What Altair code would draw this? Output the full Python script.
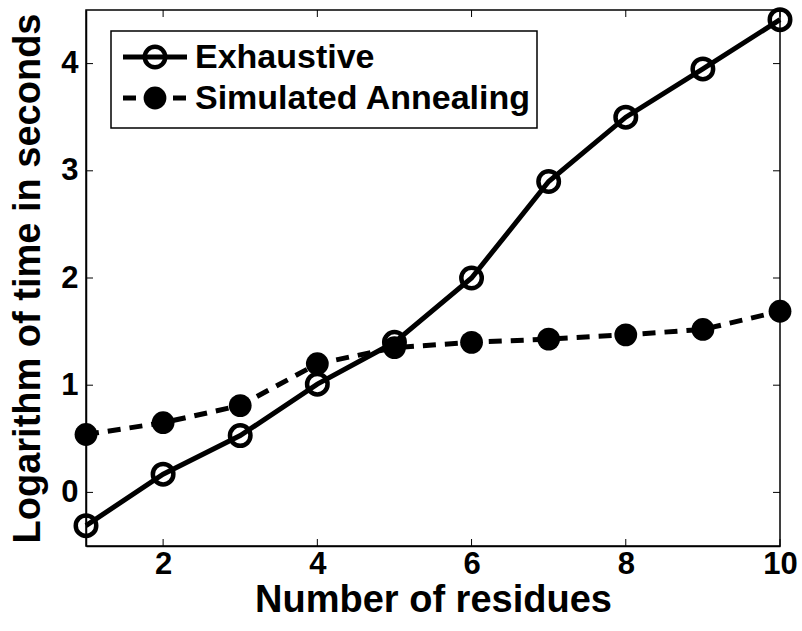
import altair as alt
import pandas as pd

# Runtime (log10 seconds) versus number of residues
residues = [1, 2, 3, 4, 5, 6, 7, 8, 9, 10]
exhaustive = [-0.31, 0.17, 0.53, 1.01, 1.40, 2.00, 2.90, 3.50, 3.95, 4.41]
annealing = [0.54, 0.65, 0.81, 1.20, 1.35, 1.40, 1.43, 1.47, 1.52, 1.69]

series_names = ["Exhaustive", "Simulated Annealing"]
x_ticks = [2, 4, 6, 8, 10]
y_ticks = [0, 1, 2, 3, 4]

W, H = 694, 536
FONT = "Liberation Sans"

df_ex = pd.DataFrame({"n": residues, "t": exhaustive})
df_sa = pd.DataFrame({"n": residues, "t": annealing})
df_xt = pd.DataFrame({"v": x_ticks})
df_yt = pd.DataFrame({"v": y_ticks})
one = pd.DataFrame({"k": [0]})

x_scale = alt.Scale(domain=[1, 10], nice=False, zero=False)
y_scale = alt.Scale(domain=[-0.5, 4.5], nice=False, zero=False)

x_enc = alt.X(
    "n:Q",
    scale=x_scale,
    axis=alt.Axis(
        title="Number of residues",
        values=x_ticks,
        format="d",
        grid=False,
        ticks=False,
        tickSize=0,
        labelPadding=3,
        titlePadding=2,
        labelFontSize=31,
        labelFontWeight="bold",
        titleFontSize=38,
        titleFontWeight="bold",
        labelFont=FONT,
        titleFont=FONT,
        labelColor="black",
        titleColor="black",
        domainColor="black",
        domainWidth=1.5,
        labelFlush=False,
    ),
)
y_enc = alt.Y(
    "t:Q",
    scale=y_scale,
    axis=alt.Axis(
        title="Logarithm of time in seconds",
        values=y_ticks,
        format="d",
        grid=False,
        ticks=False,
        tickSize=0,
        labelPadding=8,
        titlePadding=13,
        labelFontSize=31,
        labelFontWeight="bold",
        titleFontSize=38,
        titleFontWeight="bold",
        labelFont=FONT,
        titleFont=FONT,
        labelColor="black",
        titleColor="black",
        domainColor="black",
        domainWidth=1.5,
        labelFlush=False,
    ),
)

sa_line = alt.Chart(df_sa).mark_line(
    color="black", strokeWidth=5, strokeDash=[13, 9]
).encode(x=x_enc, y=y_enc)
sa_pts = alt.Chart(df_sa).mark_circle(
    color="black", size=520, opacity=1
).encode(x="n:Q", y="t:Q")

ex_line = alt.Chart(df_ex).mark_line(color="black", strokeWidth=5).encode(
    x="n:Q", y="t:Q"
)
ex_pts = alt.Chart(df_ex).mark_point(
    shape="circle", filled=False, color="black", size=420, strokeWidth=4.5, opacity=1
).encode(x="n:Q", y="t:Q")

# inward tick marks on all four sides
tick_style = dict(color="black", strokeWidth=1)
xt_bottom = alt.Chart(df_xt).mark_rule(**tick_style).encode(
    x=alt.X("v:Q", scale=x_scale), y=alt.value(H), y2=alt.value(H - 7)
)
xt_top = alt.Chart(df_xt).mark_rule(**tick_style).encode(
    x=alt.X("v:Q", scale=x_scale), y=alt.value(0), y2=alt.value(7)
)
yt_left = alt.Chart(df_yt).mark_rule(**tick_style).encode(
    y=alt.Y("v:Q", scale=y_scale), x=alt.value(0), x2=alt.value(7)
)
yt_right = alt.Chart(df_yt).mark_rule(**tick_style).encode(
    y=alt.Y("v:Q", scale=y_scale), x=alt.value(W), x2=alt.value(W - 7)
)

# legend box with line/marker samples
box = alt.Chart(one).mark_rect(fill="white", stroke="black", strokeWidth=1.5).encode(
    x=alt.value(25), x2=alt.value(451), y=alt.value(21), y2=alt.value(118)
)
leg_ex_line = alt.Chart(one).mark_rule(color="black", strokeWidth=5).encode(
    x=alt.value(37), x2=alt.value(101), y=alt.value(47)
)
leg_ex_pt = alt.Chart(one).mark_point(
    shape="circle", filled=False, color="black", size=420, strokeWidth=4.5, opacity=1
).encode(x=alt.value(69), y=alt.value(47))
leg_sa_line = alt.Chart(one).mark_rule(
    color="black", strokeWidth=5, strokeDash=[13, 12]
).encode(x=alt.value(37), x2=alt.value(101), y=alt.value(88))
leg_sa_pt = alt.Chart(one).mark_circle(color="black", size=520, opacity=1).encode(
    x=alt.value(69), y=alt.value(88)
)
text_style = dict(
    font=FONT, fontSize=34, fontWeight="bold", color="black",
    align="left", baseline="middle",
)
leg_ex_txt = alt.Chart(one).mark_text(text=series_names[0], **text_style).encode(
    x=alt.value(109), y=alt.value(48)
)
leg_sa_txt = alt.Chart(one).mark_text(text=series_names[1], **text_style).encode(
    x=alt.value(109), y=alt.value(89)
)

chart = (
    alt.layer(
        xt_bottom, xt_top, yt_left, yt_right,
        sa_line, ex_line, sa_pts, ex_pts,
        box, leg_ex_line, leg_ex_pt, leg_sa_line, leg_sa_pt, leg_ex_txt, leg_sa_txt,
    )
    .properties(
        width=W,
        height=H,
        autosize=alt.AutoSizeParams(type="none"),
        padding={"left": 86, "top": 10, "right": 22, "bottom": 85},
        background="white",
    )
    .configure_view(stroke="black", strokeWidth=1.5)
)

chart.save("out.html", embed_options={"renderer": "svg", "actions": False})
